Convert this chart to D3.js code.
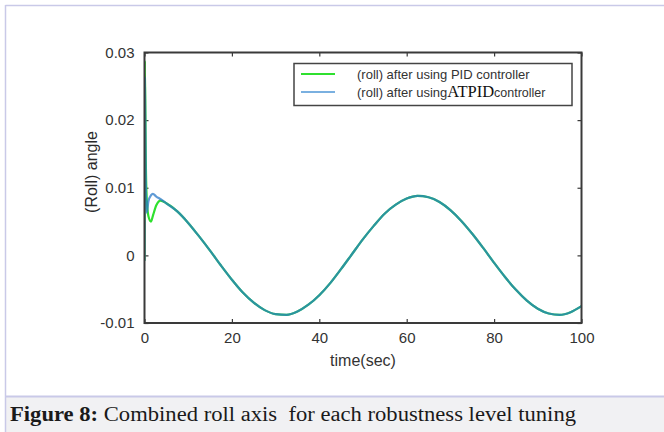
<!DOCTYPE html>
<html>
<head>
<meta charset="utf-8">
<script src="https://cdn.jsdelivr.net/npm/d3@7"></script>
<style>
  body { margin: 0; background: #fff; }
  svg { display: block; }
</style>
</head>
<body>
<div class="visualisation"></div>
<script>
// values (roll angle vs time)
const timeSec = [0, 0.08, 0.3, 0.5, 0.9, 1.5, 1.9, 2.7, 3.7, 5, 7.5, 10, 12.5, 15, 17.5, 20, 22.5, 25, 27.5, 30,
  32.5, 35, 37.5, 40, 42.5, 45, 47.5, 50, 52.5, 55, 57.5, 60, 62.5, 65, 67.5, 70, 72.5, 75, 77.5, 80,
  82.5, 85, 87.5, 90, 92.5, 95, 97.5, 100];
const pidRoll = [-0.0008, 0.0288, 0.0140, 0.0085, 0.0058, 0.0050, 0.0058, 0.0074, 0.0081, 0.0077, 0.0065, 0.0048, 0.0028, 0.0007, -0.0015, -0.0036, -0.0055, -0.0070, -0.0081, -0.0087,
  -0.0088, -0.0083, -0.0073, -0.0059, -0.0041, -0.0020, 0.0002, 0.0024, 0.0044, 0.0062, 0.0075, 0.0084, 0.0088, 0.0086, 0.0079, 0.0067, 0.0051, 0.0032, 0.0011, -0.0011,
  -0.0032, -0.0051, -0.0067, -0.0079, -0.0086, -0.0088, -0.0084, -0.0075];
const atpidRoll = [-0.0008, 0.0262, 0.0110, 0.0063, 0.0080, 0.0089, 0.0091, 0.0087, 0.0083, 0.0077, 0.0065, 0.0048, 0.0028, 0.0007, -0.0015, -0.0036, -0.0055, -0.0070, -0.0081, -0.0087,
  -0.0088, -0.0083, -0.0073, -0.0059, -0.0041, -0.0020, 0.0002, 0.0024, 0.0044, 0.0062, 0.0075, 0.0084, 0.0088, 0.0086, 0.0079, 0.0067, 0.0051, 0.0032, 0.0011, -0.0011,
  -0.0032, -0.0051, -0.0067, -0.0079, -0.0086, -0.0088, -0.0084, -0.0075];
const xTicks = [0, 20, 40, 60, 80, 100];
const yTicks = [-0.01, 0, 0.01, 0.02, 0.03];
const yTickLabels = ["-0.01", "0", "0.01", "0.02", "0.03"];

const wdth = 664, hght = 432;
const plot = {left: 144.5, right: 581.5, top: 52.5, bottom: 323};

const svg = d3.select(".visualisation")
  .append("svg")
  .attr("width", wdth)
  .attr("height", hght);

// page frame + caption band
svg.append("rect").attr("x", 6).attr("y", 397).attr("width", wdth - 6).attr("height", hght - 397)
  .attr("fill", "#f1f1f3");
svg.append("line").attr("x1", 5.5).attr("x2", wdth).attr("y1", 5.5).attr("y2", 5.5)
  .attr("stroke", "#c9c9e8").attr("stroke-width", 1.5);
svg.append("line").attr("x1", 5.5).attr("x2", 5.5).attr("y1", 5).attr("y2", hght)
  .attr("stroke", "#c9c9e8").attr("stroke-width", 1.5);
svg.append("line").attr("x1", 5).attr("x2", wdth).attr("y1", 396.5).attr("y2", 396.5)
  .attr("stroke", "#c9c9e8").attr("stroke-width", 2);

const caption = svg.append("text")
  .attr("x", 10).attr("y", 421)
  .attr("font-family", "Liberation Serif, serif")
  .attr("font-size", 20.5)
  .attr("fill", "#1a1a1a")
  .attr("textLength", 566)
  .attr("lengthAdjust", "spacingAndGlyphs");
caption.append("tspan").attr("font-weight", "bold").text("Figure 8:");
caption.append("tspan").attr("xml:space", "preserve").text(" Combined roll axis  for each robustness level tuning");

// scales
const x = d3.scaleLinear().domain([0, 100]).range([plot.left, plot.right]);
const y = d3.scaleLinear().domain([-0.01, 0.03]).range([plot.bottom, plot.top]);

const axisColor = "#3a3a3a";
const tickFont = "Liberation Sans, Arial, sans-serif";

// bottom / top axes with inward ticks
const xb = svg.append("g").attr("transform", `translate(0,${plot.bottom})`)
  .call(d3.axisBottom(x).tickValues(xTicks).tickSizeInner(-4).tickSizeOuter(0).tickPadding(9));
const xt = svg.append("g").attr("transform", `translate(0,${plot.top})`)
  .call(d3.axisTop(x).tickValues(xTicks).tickSizeInner(-4).tickSizeOuter(0).tickFormat(""));
const yl = svg.append("g").attr("transform", `translate(${plot.left},0)`)
  .call(d3.axisLeft(y).tickValues(yTicks).tickSizeInner(-4).tickSizeOuter(0).tickPadding(10)
    .tickFormat((d, i) => yTickLabels[i]));
const yr = svg.append("g").attr("transform", `translate(${plot.right},0)`)
  .call(d3.axisRight(y).tickValues(yTicks).tickSizeInner(-4).tickSizeOuter(0).tickFormat(""));

[xb, xt, yl, yr].forEach(g => {
  g.select(".domain").remove();
  g.selectAll(".tick line").attr("stroke", axisColor).attr("stroke-width", 1.2);
  g.selectAll(".tick text").attr("font-family", tickFont).attr("font-size", 15).attr("fill", "#333");
});

// data lines
const line = (vals) => d3.line()
  .x((d, i) => x(timeSec[i]))
  .y(d => y(d))
  .curve(d3.curveMonotoneX)(vals);

const clip = svg.append("clipPath").attr("id", "clip").append("rect")
  .attr("x", plot.left).attr("y", plot.top - 1).attr("width", plot.right - plot.left).attr("height", plot.bottom - plot.top + 1);

const lines = svg.append("g").attr("clip-path", "url(#clip)");
lines.append("path").attr("d", line(pidRoll))
  .attr("fill", "none").attr("stroke", "#2fe02f").attr("stroke-width", 2.2);
lines.append("path").attr("d", line(atpidRoll))
  .attr("fill", "none").attr("stroke", "#2878c8").attr("stroke-width", 2.2).attr("opacity", 0.74);

// axes box
svg.append("rect")
  .attr("x", plot.left).attr("y", plot.top)
  .attr("width", plot.right - plot.left).attr("height", plot.bottom - plot.top)
  .attr("fill", "none").attr("stroke", axisColor).attr("stroke-width", 2);

// axis titles
svg.append("text")
  .attr("x", (plot.left + plot.right) / 2).attr("y", 366)
  .attr("text-anchor", "middle")
  .attr("font-family", tickFont).attr("font-size", 16).attr("fill", "#333")
  .text("time(sec)");
svg.append("text")
  .attr("transform", "translate(97,172) rotate(-90)")
  .attr("text-anchor", "middle")
  .attr("font-family", tickFont).attr("font-size", 16).attr("fill", "#2a2a2a")
  .text("(Roll) angle");

// legend
const legend = svg.append("g");
legend.append("rect")
  .attr("x", 294).attr("y", 63.5).attr("width", 278).attr("height", 42)
  .attr("fill", "#fff").attr("stroke", "#444").attr("stroke-width", 1.5);
legend.append("line").attr("x1", 301).attr("x2", 335).attr("y1", 74).attr("y2", 74)
  .attr("stroke", "#2fe02f").attr("stroke-width", 2.2);
legend.append("line").attr("x1", 301).attr("x2", 335).attr("y1", 92).attr("y2", 92)
  .attr("stroke", "#7ab0e0").attr("stroke-width", 2.2);
legend.append("text")
  .attr("x", 357).attr("y", 78.5)
  .attr("font-family", tickFont).attr("font-size", 13).attr("fill", "#333")
  .text("(roll) after using PID controller");
const l2 = legend.append("text")
  .attr("x", 357).attr("y", 96.5)
  .attr("font-family", tickFont).attr("font-size", 13).attr("fill", "#333");
l2.append("tspan").text("(roll) after using");
l2.append("tspan").attr("font-family", "Liberation Serif, serif").attr("font-size", 16.5).attr("fill", "#111").text("ATPID");
l2.append("tspan").attr("font-size", 12.5).text("controller");
</script>
</body>
</html>
